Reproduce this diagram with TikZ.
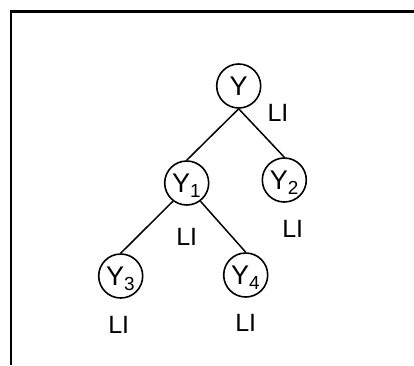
\documentclass[tikz,border=0pt]{standalone}
\usepackage{fontspec}
\setmainfont{Liberation Sans}
\usetikzlibrary{positioning}

\begin{document}
\begin{tikzpicture}[x=1pt, y=-1pt, on grid,
        var/.style={circle, draw, line width=1.6pt, minimum size=44pt, inner sep=0pt,
            text height=19.3pt, text depth=0pt, font=\fontsize{27}{32}\selectfont},
        lbl/.style={inner sep=0pt, font=\fontsize{25}{30}\selectfont},
        link/.style={line width=1.5pt}]
        \useasboundingbox (0,0) rectangle (414,365);
        % Frame
        \draw[line width=2.2pt] (11,365) -- (11,11.5) -- (414,11.5);
        % Define nodes
        \node[var] (Y) at (238.7,86) {Y};
        \node[var, below left=97pt and 52pt of Y] (Y1) {Y\textsubscript{1}};
        \node[var, below right=94pt and 45.6pt of Y] (Y2) {Y\textsubscript{2}};
        \node[var, below left=93pt and 66pt of Y1] (Y3) {Y\textsubscript{3}};
        \node[var, below right=92pt and 59pt of Y1] (Y4) {Y\textsubscript{4}};
        % Labels
        \node[lbl, below right=26.7pt and 39.3pt of Y] (lY) {LI};
        \node[lbl, below=53.7pt of Y1] (lY1) {LI};
        \node[lbl, below right=49.3pt and 8.4pt of Y2] (lY2) {LI};
        \node[lbl, below left=49pt and 2pt of Y3] (lY3) {LI};
        \node[lbl, below=47.4pt of Y4] (lY4) {LI};
        % Connect nodes
        \draw[link] (Y.south) -- (Y1.north);
        \draw[link] (Y.south) -- (Y2.north);
        \draw[link] (Y1.-127) -- (Y3.north);
        \draw[link] (Y1.-53) -- (Y4.north);
    \end{tikzpicture}
\end{document}
